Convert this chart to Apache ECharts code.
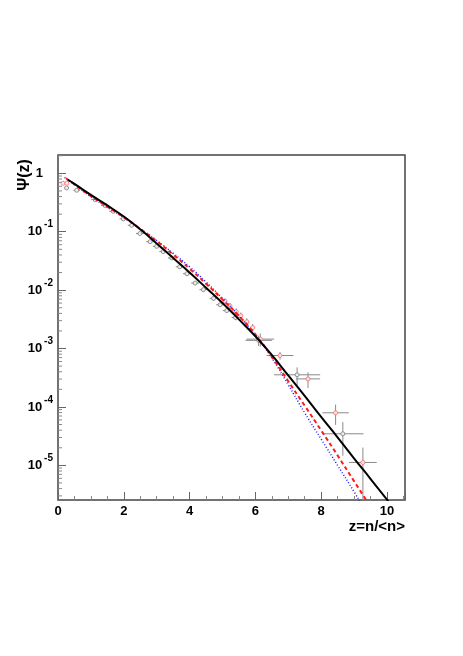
<!DOCTYPE html>
<html>
<head>
<meta charset="utf-8">
<script src="https://cdn.jsdelivr.net/npm/echarts@6/dist/echarts.min.js"></script>
<style>
  html, body { margin: 0; padding: 0; background: #fff; }
  #chart { width: 463px; height: 656px; }
</style>
</head>
<body>
<div id="chart"></div>
<script>
// black solid curve
var blackZ   = [0.3, 0.5, 1, 1.5, 2, 2.5, 3, 3.5, 4, 4.5, 5, 5.5, 6, 6.5, 7, 7.5, 8, 8.5, 9, 9.5, 10.05];
var blackPsi = [0.776, 0.66, 0.427, 0.282, 0.182, 0.110, 0.0631, 0.0355, 0.0200, 0.0110, 6.03e-3, 3.16e-3,
                1.62e-3, 7.76e-4, 3.47e-4, 1.55e-4, 6.76e-5, 3.02e-5, 1.32e-5, 5.89e-6, 2.4e-6];
// red dashed curve
var redZ   = [0.24, 0.5, 1, 1.5, 2, 2.5, 3, 3.5, 4, 4.5, 5, 5.5, 6, 6.5, 7, 7.5, 8, 8.5, 9, 9.4];
var redPsi = [0.822, 0.646, 0.407, 0.269, 0.178, 0.112, 0.0692, 0.0407, 0.0234, 0.0129, 6.92e-3, 3.63e-3,
              1.74e-3, 7.24e-4, 2.75e-4, 1.05e-4, 3.98e-5, 1.48e-5, 5.37e-6, 2.4e-6];
// blue dotted curve
var blueZ   = [0.2, 0.5, 1, 1.5, 2, 2.5, 3, 3.5, 4, 4.5, 5, 5.5, 6, 6.5, 7, 7.5, 8, 8.5, 9, 9.2];
var bluePsi = [0.851, 0.646, 0.398, 0.263, 0.174, 0.112, 0.0708, 0.0427, 0.0251, 0.0138, 7.24e-3, 3.63e-3,
               1.70e-3, 6.92e-4, 2.40e-4, 7.94e-5, 2.82e-5, 1.0e-5, 3.55e-6, 2.3e-6];

// data points, gray set
var grayZ   = [0.26, 0.57, 1.13, 1.43, 1.68, 1.99, 2.24, 2.49, 2.80, 3.00, 3.20, 3.46, 3.70, 3.92, 4.17, 4.42,
               4.73, 4.93, 5.13, 5.40, 6.10, 7.27, 8.66];
var grayPsi = [0.562, 0.513, 0.355, 0.282, 0.224, 0.166, 0.129, 0.0933, 0.0676, 0.0562, 0.0457, 0.0355, 0.0251,
               0.0191, 0.0132, 0.0102, 7.24e-3, 5.62e-3, 4.47e-3, 3.39e-3, 1.38e-3, 3.55e-4, 3.47e-5];
var grayDz  = [0.06, 0.1, 0.12, 0.12, 0.12, 0.12, 0.12, 0.12, 0.12, 0.12, 0.12, 0.12, 0.12, 0.12, 0.12, 0.12,
               0.12, 0.12, 0.12, 0.12, 0.4, 0.7, 0.63];
var grayRel = [0.05, 0.05, 0.05, 0.05, 0.05, 0.05, 0.05, 0.05, 0.06, 0.06, 0.06, 0.06, 0.06, 0.06, 0.07, 0.07,
               0.08, 0.08, 0.08, 0.1, 0.2, 0.34, 0.58];

// data points, red set
var redPtZ   = [0.15, 0.27, 5.08, 5.23, 5.42, 5.56, 5.74, 5.92, 6.15, 6.75, 7.60, 8.44, 9.27];
var redPtPsi = [0.676, 0.676, 6.46e-3, 5.37e-3, 4.27e-3, 3.63e-3, 2.88e-3, 2.29e-3, 1.45e-3, 7.59e-4,
                3.02e-4, 7.94e-5, 1.12e-5];
var redPtDz  = [0.05, 0.05, 0.05, 0.05, 0.05, 0.05, 0.05, 0.05, 0.42, 0.41, 0.37, 0.40, 0.42];
var redPtRel = [0.04, 0.04, 0.12, 0.12, 0.14, 0.14, 0.15, 0.15, 0.25, 0.15, 0.3, 0.38, 0.8];

// minor ticks on the log axis
var mantissas = [2, 3, 4, 5, 6, 7, 8, 9];
var decades = [-6, -5, -4, -3, -2, -1, 0];

var font = '"Liberation Sans", Arial, Helvetica, sans-serif';
var frameColor = '#444';

function pairs(xs, ys) {
  return xs.map(function (x, i) { return [x, ys[i]]; });
}
function pts(xs, ys, dz, rel) {
  return xs.map(function (x, i) { return [x, ys[i], dz[i], rel[i]]; });
}

var minorVals = [];
decades.forEach(function (d) {
  mantissas.forEach(function (m) { minorVals.push([0, m * Math.pow(10, d)]); });
});

function errBars(params, api) {
  var z = api.value(0), p = api.value(1), dz = api.value(2), rel = api.value(3);
  var a = api.coord([z - dz, p]), b = api.coord([z + dz, p]);
  var lo = p * (1 - rel);
  if (lo < 1e-7) lo = 1e-7;
  var c = api.coord([z, lo]), d = api.coord([z, p * (1 + rel)]);
  var st = { stroke: '#8a8a8a', lineWidth: 1 };
  return {
    type: 'group',
    children: [
      { type: 'line', shape: { x1: a[0], y1: a[1], x2: b[0], y2: b[1] }, style: st },
      { type: 'line', shape: { x1: c[0], y1: c[1], x2: d[0], y2: d[1] }, style: st }
    ]
  };
}

var chart = echarts.init(document.getElementById('chart'));
var option = {
  animation: false,
  grid: {
    left: 58, top: 155, width: 347, height: 345,
    show: true, borderColor: frameColor, borderWidth: 1.5, backgroundColor: 'transparent'
  },
  xAxis: {
    type: 'value', min: 0, max: 10.55, interval: 2,
    axisLine: { show: false },
    splitLine: { show: false },
    axisTick: { inside: true, length: 8, lineStyle: { color: '#666' } },
    minorTick: { show: true, splitNumber: 4, length: 4, lineStyle: { color: '#888' } },
    axisLabel: {
      margin: 5, fontSize: 13, fontWeight: 'bold', color: '#000', fontFamily: font,
      showMaxLabel: false
    }
  },
  yAxis: {
    type: 'log', logBase: 10, min: 2.55e-6, max: 2.06,
    axisLine: { show: false },
    splitLine: { show: false },
    axisTick: { inside: true, length: 8, lineStyle: { color: '#666' } },
    axisLabel: {
      margin: 5, showMinLabel: false, showMaxLabel: false, color: '#000',
      formatter: function (v) {
        var e = Math.round(Math.log10(v));
        if (e === 0) return '{b|1}{sp| }';
        return '{b|10}{s|' + e + '}';
      },
      rich: {
        b: { fontSize: 13, fontWeight: 'bold', fontFamily: font, color: '#000' },
        s: { fontSize: 10, fontWeight: 'bold', fontFamily: font, color: '#000', padding: [0, 0, 14, 2] },
        sp: { width: 10 }
      }
    }
  },
  graphic: [
    {
      type: 'text', x: 25, y: 175, rotation: Math.PI / 2,
      style: { text: 'Ψ(z)', font: 'bold 16px ' + font, fill: '#000', align: 'center', verticalAlign: 'middle' }
    },
    {
      type: 'text', x: 405, y: 527,
      style: { text: 'z=n/<n>', font: 'bold 15px ' + font, fill: '#000', align: 'right', verticalAlign: 'middle' }
    }
  ],
  series: [
    {
      type: 'custom', name: 'minor ticks', data: minorVals, clip: true, silent: true,
      renderItem: function (params, api) {
        var p = api.coord([api.value(0), api.value(1)]);
        return { type: 'line', shape: { x1: p[0], y1: p[1], x2: p[0] + 4, y2: p[1] },
                 style: { stroke: '#888', lineWidth: 1 } };
      }
    },
    {
      type: 'custom', name: 'gray err', data: pts(grayZ, grayPsi, grayDz, grayRel),
      clip: true, renderItem: errBars, z: 3
    },
    {
      type: 'custom', name: 'red err', data: pts(redPtZ, redPtPsi, redPtDz, redPtRel),
      clip: true, renderItem: errBars, z: 3
    },
    {
      type: 'scatter', name: 'gray', data: pairs(grayZ, grayPsi), symbol: 'circle', symbolSize: 4, z: 4,
      itemStyle: { color: '#fff', borderColor: '#777', borderWidth: 1 }
    },
    {
      type: 'scatter', name: 'red', data: pairs(redPtZ, redPtPsi), symbol: 'circle', symbolSize: 4, z: 4,
      itemStyle: { color: '#fff', borderColor: '#f66', borderWidth: 1 }
    },
    {
      type: 'line', name: 'blue', data: pairs(blueZ, bluePsi), smooth: true, showSymbol: false, z: 5,
      lineStyle: { color: '#1a1aff', width: 1.5, type: [1, 2] }
    },
    {
      type: 'line', name: 'red', data: pairs(redZ, redPsi), smooth: true, showSymbol: false, z: 6,
      lineStyle: { color: '#ff1a1a', width: 2, type: [4, 3] }
    },
    {
      type: 'line', name: 'black', data: pairs(blackZ, blackPsi), smooth: true, showSymbol: false, z: 7,
      lineStyle: { color: '#000', width: 2 }
    }
  ]
};
chart.setOption(option);
</script>
</body>
</html>
